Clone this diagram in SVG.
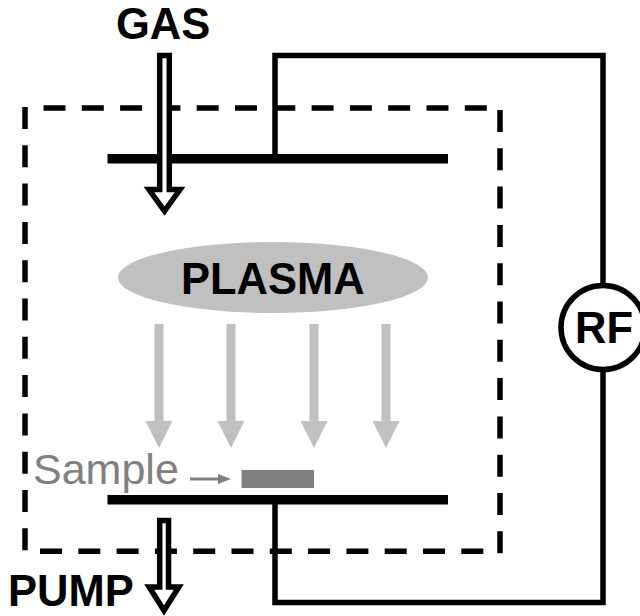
<svg xmlns="http://www.w3.org/2000/svg" width="640" height="616" viewBox="0 0 640 616">
<style>
.lbl{font-family:"Liberation Sans",Arial,sans-serif;font-weight:700;font-size:43.5px;fill:#000}
.wire{fill:none;stroke:#000;stroke-width:5.5}
.dash{fill:none;stroke:#000;stroke-width:5.5;stroke-dasharray:22 16.3}
.plate{fill:#000}
.hollow{fill:#fff;stroke:#000;stroke-width:5.5;stroke-linejoin:miter}
.ion{fill:#c0c0c0}
</style>
<defs>
<polygon id="ion" class="ion" points="-4.5,0 4.5,0 4.5,97 13.5,97 0,124 -13.5,97 -4.5,97"/>
</defs>
<g id="chamber">
<path class="dash" d="M25 107V552"/>
<path class="dash" d="M43.500 108H490"/>
<path class="dash" d="M500 110V554"/>
<path class="dash" d="M40 551.300H490"/>
</g>
<g id="connectors">
<path class="wire" d="M275 159V55.500H603V285"/>
<path class="wire" d="M603 370V602.500H275V500"/>
<line x1="190" y1="479" x2="220" y2="479" stroke="#808080" stroke-width="3"/>
<polygon points="218,474 231,479 218,484" fill="#808080"/>
</g>
<g id="top-plate"><rect class="plate" x="107.500" y="154" width="340.500" height="9.500"/></g>
<g id="bottom-plate"><rect class="plate" x="107.500" y="495" width="340.500" height="9.500"/></g>
<g id="gas-arrow"><polygon class="hollow" points="159.700,55.500 169.300,55.500 169.300,189.500 180,189.500 164.500,211 149,189.500 159.700,189.500"/></g>
<g id="gas-label"><text class="lbl" x="116" y="39">GAS</text></g>
<g id="plasma">
<ellipse cx="273" cy="277.500" rx="155" ry="35.500" fill="#c0c0c0"/>
<text class="lbl" x="181" y="294">PLASMA</text>
</g>
<g id="ions">
<use href="#ion" x="159" y="324"/>
<use href="#ion" x="231" y="324"/>
<use href="#ion" x="314" y="324"/>
<use href="#ion" x="386" y="324"/>
</g>
<g id="sample">
<text x="33" y="484" font-family="'Liberation Sans',Arial,sans-serif" font-size="43" fill="#808080">Sample</text>
<rect x="241.500" y="470" width="72.500" height="18" fill="#808080"/>
</g>
<g id="pump-arrow"><polygon class="hollow" points="159.700,520.500 168.500,520.500 168.500,587 178.800,587 164,610.500 149.200,587 159.700,587"/></g>
<g id="pump-label"><text class="lbl" x="8" y="606">PUMP</text></g>
<g id="rf">
<circle cx="603" cy="327.500" r="42" fill="#fff" stroke="#000" stroke-width="5.500"/>
<text class="lbl" x="575" y="343">RF</text>
</g>
</svg>
